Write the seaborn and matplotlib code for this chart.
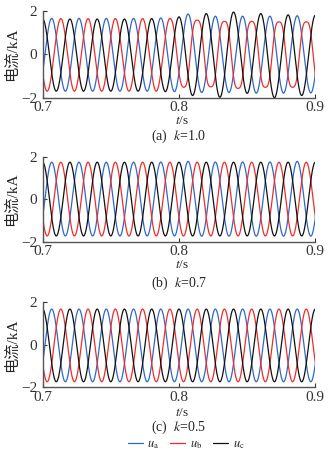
import numpy as np
import pandas as pd
import matplotlib
matplotlib.use("Agg")
import matplotlib.pyplot as plt
from matplotlib.lines import Line2D
import seaborn as sns

# ---------------- data ----------------
T_START, T_END = 0.7, 0.9
X_TICKS = [0.7, 0.8, 0.9]
X_TICK_LABELS = ["0.7", "0.8", "0.9"]
Y_TICKS = [-2, 0, 2]
Y_TICK_LABELS = ["\u22122", "0", "2"]
Y_LABEL = "电流/kA"
X_LABEL = "$t$/s"
CAPTIONS = ["(a)  $k$=1.0", "(b)  $k$=0.7", "(c)  $k$=0.5"]
PHASES = ["$u_\\mathrm{a}$", "$u_\\mathrm{b}$", "$u_\\mathrm{c}$"]
COLORS = ["#3068c8", "#ee2c2c", "#111111"]

# time of first extremum of each phase (s) and half period (50 Hz)
FIRST_T = [0.68667, 0.69333, 0.69]
HALF = 0.01

# successive extrema (kA) of each phase, panel (a) k=1.0
A_UA = [1.66, -1.70, 1.66, -1.70, 1.66, -1.70, 1.66, -1.70, 1.66, -1.70, 1.68, -1.72,
        1.86, -1.76, 1.76, -1.76, 1.76, -1.79, 1.76, -1.79, 1.78, -1.78, 1.76]
A_UB = [1.65, -1.70, 1.65, -1.70, 1.65, -1.70, 1.65, -1.70, 1.65, -1.70, 1.66, -1.52,
        1.58, -1.50, 1.52, -1.57, 1.52, -1.52, 1.50, -1.52, 1.50, -1.50, 1.50]
A_UC = [-1.70, 1.63, -1.70, 1.63, -1.70, 1.63, -1.70, 1.63, -1.70, 1.65, -1.72, 1.73,
        -1.90, 1.88, -1.98, 1.95, -1.80, 1.88, -2.00, 1.82, -1.90, 1.80, -1.85]
# flat-top factor of each half cycle (distorted phase b after the fault)
A_UB_FLAT = [0, 0, 0, 0, 0, 0, 0, 0, 0, 0, 0.4,
             0.8, 0.8, 0.8, 0.8, 0.8, 0.8, 0.8, 0.8, 0.8, 0.8, 0.8]

# panel (b) k=0.7
B_UA = [1.74, -1.73, 1.74, -1.73, 1.74, -1.73, 1.74, -1.73, 1.74, -1.73, 1.75, -1.73,
        1.78, -1.74, 1.75, -1.74, 1.75, -1.74, 1.75, -1.74, 1.78, -1.74, 1.75]
B_UB = [1.74, -1.73, 1.74, -1.73, 1.74, -1.73, 1.74, -1.73, 1.74, -1.73, 1.74, -1.73,
        1.74, -1.73, 1.74, -1.73, 1.74, -1.73, 1.74, -1.73, 1.74, -1.73, 1.74]
B_UC = [-1.73, 1.74, -1.73, 1.74, -1.73, 1.74, -1.73, 1.74, -1.73, 1.74, -1.73, 1.74,
        -1.73, 1.74, -1.73, 1.74, -1.73, 1.74, -1.73, 1.74, -1.73, 1.74, -1.73]

# panel (c) k=0.5
C_UA = [1.68, -1.74, 1.68, -1.74, 1.68, -1.74, 1.68, -1.74, 1.68, -1.74, 1.68, -1.74,
        1.68, -1.74, 1.68, -1.74, 1.68, -1.74, 1.68, -1.74, 1.68, -1.74, 1.68]
C_UB = [1.68, -1.74, 1.68, -1.74, 1.68, -1.74, 1.68, -1.74, 1.68, -1.74, 1.68, -1.74,
        1.68, -1.74, 1.68, -1.74, 1.68, -1.74, 1.68, -1.74, 1.68, -1.74, 1.68]
C_UC = [-1.74, 1.68, -1.74, 1.68, -1.74, 1.68, -1.74, 1.68, -1.74, 1.68, -1.74, 1.68,
        -1.74, 1.68, -1.74, 1.68, -1.74, 1.68, -1.74, 1.68, -1.74, 1.68, -1.74]

PANELS = [
    ([A_UA, A_UB, A_UC], [None, A_UB_FLAT, None]),
    ([B_UA, B_UB, B_UC], [None, None, None]),
    ([C_UA, C_UB, C_UC], [None, None, None]),
]


def wave(t, t_first, extrema, flat):
    ext = np.asarray(extrema, dtype=float)
    pos = (t - t_first) / HALF
    k = np.clip(np.floor(pos).astype(int), 0, len(ext) - 2)
    s = pos - k
    c = np.cos(np.pi * s)
    c_flat = (c - np.cos(3 * np.pi * s) / 9) / (8 / 9)
    f = np.zeros(len(ext) - 1) if flat is None else np.asarray(flat, dtype=float)
    f = f[k]
    g = (1 - f) * c + f * c_flat
    v0, v1 = ext[k], ext[k + 1]
    return (v0 + v1) / 2 + (v0 - v1) / 2 * g


# ---------------- style ----------------
sns.set_theme(style="ticks")
plt.rcParams["font.family"] = ["Liberation Serif", "Noto Sans CJK SC"]
plt.rcParams["mathtext.fontset"] = "stix"
plt.rcParams["axes.unicode_minus"] = True

fig = plt.figure(figsize=(3.33, 4.58), dpi=100)
fig.patch.set_facecolor("white")

axes_rects = [
    [0.128, 0.7867, 0.819, 0.1893],
    [0.128, 0.4723, 0.819, 0.1856],
    [0.128, 0.1544, 0.819, 0.1856],
]
xlabel_y = [0.735, 0.4205, 0.099]
caption_y = [0.703, 0.3815, 0.0675]

t = np.linspace(0.695, 0.905, 3000)

for i, (ext_list, flat_list) in enumerate(PANELS):
    ax = fig.add_axes(axes_rects[i])
    frames = []
    for name, tf, ext, fl in zip(PHASES, FIRST_T, ext_list, flat_list):
        frames.append(pd.DataFrame({"t": t, "i": wave(t, tf, ext, fl), "phase": name}))
    df = pd.concat(frames, ignore_index=True)
    sns.lineplot(data=df, x="t", y="i", hue="phase", hue_order=PHASES,
                 palette=COLORS, estimator=None, sort=False, legend=False,
                 linewidth=0.9, ax=ax)
    ax.set_xlim(T_START, T_END)
    ax.set_ylim(-2, 2)
    ax.set_xticks(X_TICKS)
    ax.set_xticklabels(X_TICK_LABELS)
    ax.set_yticks(Y_TICKS)
    ax.set_yticklabels(Y_TICK_LABELS)
    ax.set_xlabel("")
    ax.set_ylabel("")
    fig.text(0.036, axes_rects[i][1] + axes_rects[i][3] / 2, Y_LABEL, rotation=90,
             ha="center", va="center", fontsize=11)
    ax.tick_params(direction="in", length=3, width=0.8, colors="#333333",
                   labelsize=11, pad=2.5)
    ax.tick_params(axis="y", pad=4)
    for sp in ["top", "right"]:
        ax.spines[sp].set_visible(False)
    for sp in ["left", "bottom"]:
        ax.spines[sp].set_color("#555555")
        ax.spines[sp].set_linewidth(1.0)
    ax.set_facecolor("white")
    fig.text(0.5456, xlabel_y[i], X_LABEL, ha="center", va="center", fontsize=9.5)
    fig.text(0.5375, caption_y[i], CAPTIONS[i], ha="center", va="center", fontsize=10)

handles = [Line2D([0], [0], color=c, lw=0.9) for c in COLORS]
fig.legend(handles, PHASES, loc="center", bbox_to_anchor=(0.559, 0.0285),
           ncol=3, frameon=False, fontsize=9, handlelength=1.2,
           handletextpad=0.35, columnspacing=0.9, borderpad=0.1)

fig.savefig("out.png", dpi=100, facecolor="white")
